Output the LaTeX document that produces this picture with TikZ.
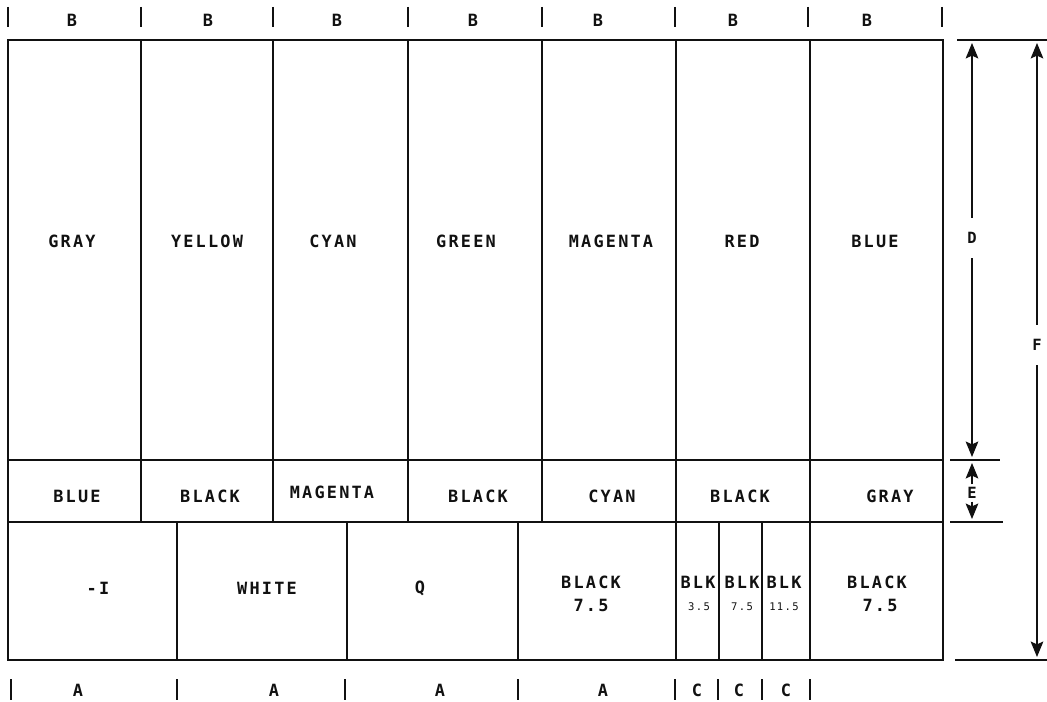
\documentclass[tikz,border=0pt]{standalone}
\usepackage{fontspec}
\usepackage{xcolor}
\usepackage{tikz}
\usetikzlibrary{arrows.meta}
\newfontfamily\barfont[LetterSpace=13,BoldFont={DejaVu Sans Mono Bold}]{DejaVu Sans Mono}
\definecolor{BarInk}{HTML}{111111}
\tikzset{
  barline/.style={BarInk,line width=1.4pt},
  tickline/.style={BarInk,line width=1.2pt},
  dimline/.style={BarInk,line width=0.9pt},
  dimarrow/.style={dimline,-{Stealth[length=11pt,width=9pt,inset=2pt]}},
  barlabel/.style={text=BarInk,inner sep=0pt,font=\barfont\bfseries\fontsize{12}{12}\selectfont},
  barnum/.style={text=BarInk,inner sep=0pt,font=\barfont\fontsize{7.5}{7.5}\selectfont},
  dimlabel/.style={text=BarInk,inner xsep=0pt,inner ysep=0.36cm,font=\barfont\bfseries\fontsize{11}{11}\selectfont}
}

\begin{document}
\begin{tikzpicture}[x=0.025cm,y=-0.025cm]
\path[use as bounding box] (0,0) rectangle (1047,702);
% frame and rows
\draw[barline] (8,40) rectangle (943,660);
\draw[barline] (8,460) -- (943,460);
\draw[barline] (8,522) -- (943,522);
% upper dividers
\draw[barline] (141,40) -- (141,522);
\draw[barline] (273,40) -- (273,522);
\draw[barline] (408,40) -- (408,522);
\draw[barline] (542,40) -- (542,522);
\draw[barline] (676,40) -- (676,660);
\draw[barline] (810,40) -- (810,660);
% lower dividers
\draw[barline] (177,522) -- (177,660);
\draw[barline] (347,522) -- (347,660);
\draw[barline] (518,522) -- (518,660);
\draw[barline] (719,522) -- (719,660);
\draw[barline] (762,522) -- (762,660);
% top ticks and B labels
\draw[tickline] (8,7) -- (8,27);
\draw[tickline] (141,7) -- (141,27);
\draw[tickline] (273,7) -- (273,27);
\draw[tickline] (408,7) -- (408,27);
\draw[tickline] (542,7) -- (542,27);
\draw[tickline] (675,7) -- (675,27);
\draw[tickline] (808,7) -- (808,27);
\draw[tickline] (942,7) -- (942,27);
\node[barlabel] (wB1) at (72,20) {B};
\node[barlabel] (wB2) at (208,20) {B};
\node[barlabel] (wB3) at (337,20) {B};
\node[barlabel] (wB4) at (473,20) {B};
\node[barlabel] (wB5) at (598,20) {B};
\node[barlabel] (wB6) at (733,20) {B};
\node[barlabel] (wB7) at (867,20) {B};
% main bars
\node[barlabel] (gray) at (72,241) {GRAY};
\node[barlabel] (yellow) at (207,241) {YELLOW};
\node[barlabel] (cyan) at (333,241) {CYAN};
\node[barlabel] (green) at (466,241) {GREEN};
\node[barlabel] (magenta) at (611,241) {MAGENTA};
\node[barlabel] (red) at (742,241) {RED};
\node[barlabel] (blue) at (875,241) {BLUE};
% castellations
\node[barlabel] (cBlue) at (77,496) {BLUE};
\node[barlabel] (cBlackA) at (210,496) {BLACK};
\node[barlabel] (cMagenta) at (332,492) {MAGENTA};
\node[barlabel] (cBlackB) at (478,496) {BLACK};
\node[barlabel] (cCyan) at (612,496) {CYAN};
\node[barlabel] (cBlackC) at (740,496) {BLACK};
\node[barlabel] (cGray) at (890,496) {GRAY};
% lower row
\node[barlabel] (minusI) at (98,588) {-I};
\node[barlabel] (white) at (267,588) {WHITE};
\node[barlabel] (qbar) at (420,588) {Q};
\node[barlabel] (blackL) at (591,582) {BLACK};
\node[barlabel] (blackLv) at (591,605) {7.5};
\node[barlabel] (blkA) at (698,582) {BLK};
\node[barnum] (blkAv) at (699,607) {3.5};
\node[barlabel] (blkB) at (742,582) {BLK};
\node[barnum] (blkBv) at (742,607) {7.5};
\node[barlabel] (blkC) at (784,582) {BLK};
\node[barnum] (blkCv) at (784,607) {11.5};
\node[barlabel] (blackR) at (877,582) {BLACK};
\node[barlabel] (blackRv) at (880,605) {7.5};
% bottom ticks and A/C labels
\draw[tickline] (11,679) -- (11,700);
\draw[tickline] (177,679) -- (177,700);
\draw[tickline] (345,679) -- (345,700);
\draw[tickline] (518,679) -- (518,700);
\draw[tickline] (675,679) -- (675,700);
\draw[tickline] (718,679) -- (718,700);
\draw[tickline] (762,679) -- (762,700);
\draw[tickline] (810,679) -- (810,700);
\node[barlabel] (wA1) at (78,690) {A};
\node[barlabel] (wA2) at (274,690) {A};
\node[barlabel] (wA3) at (440,690) {A};
\node[barlabel] (wA4) at (603,690) {A};
\node[barlabel] (wC1) at (697,690) {C};
\node[barlabel] (wC2) at (739,690) {C};
\node[barlabel] (wC3) at (786,690) {C};
% dimension lines
\draw[dimline] (957,40) -- (1047,40);
\draw[dimline] (950,460) -- (1000,460);
\draw[dimline] (950,522) -- (1003,522);
\draw[dimline] (955,660) -- (1047,660);
\coordinate (dTop) at (972,43);
\coordinate (dBot) at (972,457);
\coordinate (eTop) at (972,463);
\coordinate (eBot) at (972,519);
\coordinate (fTop) at (1037,43);
\coordinate (fBot) at (1037,657);
\node[dimlabel] (dimD) at (972,238) {D};
\node[dimlabel,inner ysep=2pt] (dimE) at (972,493) {E};
\node[dimlabel] (dimF) at (1037,345) {F};
\draw[dimarrow] (dimD.north) -- (dTop);
\draw[dimarrow] (dimD.south) -- (dBot);
\draw[dimarrow] (dimE.north) -- (eTop);
\draw[dimarrow] (dimE.south) -- (eBot);
\draw[dimarrow] (dimF.north) -- (fTop);
\draw[dimarrow] (dimF.south) -- (fBot);
\end{tikzpicture}
\end{document}
